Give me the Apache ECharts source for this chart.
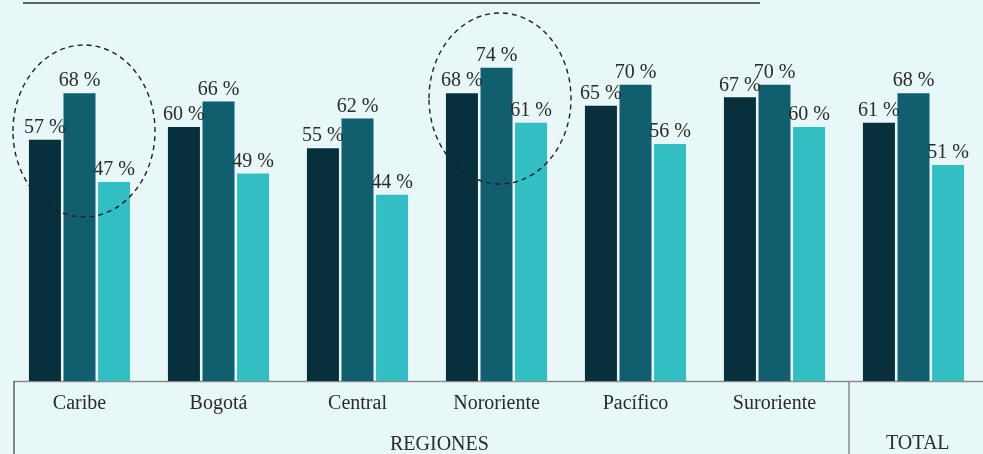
<!DOCTYPE html>
<html>
<head>
<meta charset="utf-8">
<script src="https://cdn.jsdelivr.net/npm/echarts@6/dist/echarts.min.js"></script>
<style>
  html, body { margin: 0; padding: 0; background: #e8f7f8; }
  #main { width: 983px; height: 454px; }
</style>
</head>
<body>
<div id="main"></div>
<script>
// regiones + total
var categories = ["Caribe", "Bogotá", "Central", "Nororiente", "Pacífico", "Suroriente", "TOTAL"];
var serieA = [57, 60, 55, 68, 65, 67, 61];
var serieB = [68, 66, 62, 74, 70, 70, 68];
var serieC = [47, 49, 44, 61, 56, 60, 51];

var fontSerif = "'Liberation Serif', 'DejaVu Serif', serif";
var colores = ["#072f3c", "#115e6e", "#32bec2"];

var chart = echarts.init(document.getElementById("main"));

function serie(data, color) {
  return {
    type: "bar",
    data: data,
    barWidth: 32,
    barGap: "8%",
    itemStyle: { color: color },
    label: {
      show: true,
      position: "top",
      distance: 2,
      formatter: "{c} %",
      color: "#2b2b2b",
      fontFamily: fontSerif,
      fontSize: 20
    }
  };
}

var option = {
  backgroundColor: "#e8f7f8",
  animation: false,
  grid: { left: 10, top: 0, width: 978, height: 381 },
  xAxis: {
    type: "category",
    data: categories,
    axisLine: { show: false },
    axisTick: { show: false },
    axisLabel: {
      color: "#2b2b2b",
      fontFamily: fontSerif,
      fontSize: 20,
      margin: 13,
      formatter: function (v) { return v === "TOTAL" ? "" : v; }
    }
  },
  yAxis: {
    type: "value",
    min: 0,
    max: 90,
    show: false,
    splitLine: { show: false }
  },
  series: [
    serie(serieA, colores[0]),
    serie(serieB, colores[1]),
    serie(serieC, colores[2])
  ],
  graphic: [
    // linea superior
    { type: "line", shape: { x1: 23, y1: 3, x2: 760, y2: 3 }, style: { stroke: "#333", lineWidth: 1.5 } },
    // eje y separadores
    { type: "line", shape: { x1: 14, y1: 381.5, x2: 983, y2: 381.5 }, style: { stroke: "#8a8a8a", lineWidth: 1.5 } },
    { type: "line", shape: { x1: 14, y1: 381, x2: 14, y2: 454 }, style: { stroke: "#666", lineWidth: 1.5 } },
    { type: "line", shape: { x1: 849, y1: 381, x2: 849, y2: 454 }, style: { stroke: "#8a8a8a", lineWidth: 1.5 } },
    { type: "text", left: 390, top: 435, style: { text: "REGIONES", fill: "#2b2b2b", font: "20px " + fontSerif } },
    { type: "text", left: 918 - 32, top: 434, style: { text: "TOTAL", fill: "#2b2b2b", font: "20px " + fontSerif } },
    // elipses punteadas
    { type: "ellipse", shape: { cx: 84, cy: 131, rx: 71, ry: 86 }, style: { fill: "none", stroke: "#222", lineWidth: 1.4, lineDash: [5, 4] }, z: 10 },
    { type: "ellipse", shape: { cx: 500, cy: 98.5, rx: 71, ry: 85.5 }, style: { fill: "none", stroke: "#222", lineWidth: 1.4, lineDash: [5, 4] }, z: 10 }
  ]
};

chart.setOption(option);
</script>
</body>
</html>
